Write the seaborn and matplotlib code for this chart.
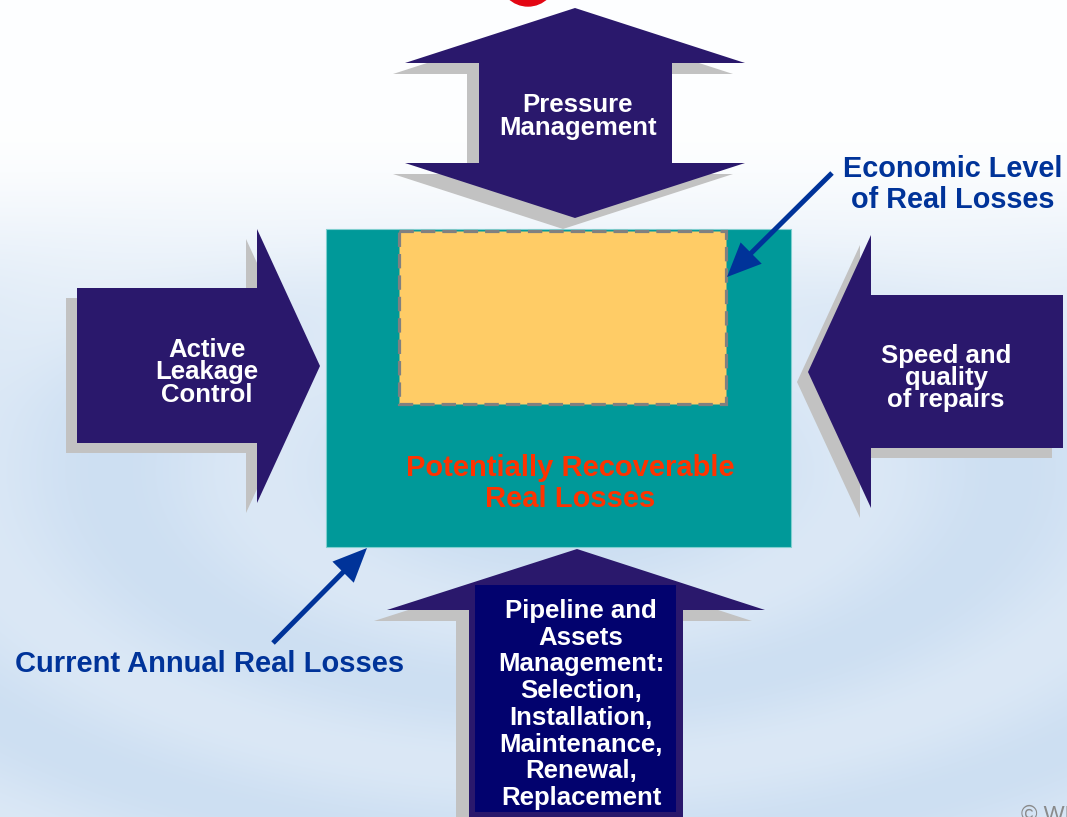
import numpy as np
import matplotlib
matplotlib.use("Agg")
import matplotlib.pyplot as plt
from matplotlib.patches import Polygon, Rectangle, Circle
import seaborn as sns

# ---- labels ---------------------------------------------------------------
TOP_LABEL = ["Pressure", "Management"]
LEFT_LABEL = ["Active", "Leakage", "Control"]
RIGHT_LABEL = ["Speed and", "quality", "of repairs"]
BOTTOM_LABEL = ["Pipeline and", "Assets", "Management:", "Selection,",
                "Installation,", "Maintenance,", "Renewal,", "Replacement"]
CENTER_LABEL = ["Potentially Recoverable", "Real Losses"]
ECONOMIC_LABEL = ["Economic Level", "of Real Losses"]
CURRENT_LABEL = "Current Annual Real Losses"
COPYRIGHT = "\u00a9 WRc"

# ---- colours ----------------------------------------------------------------
ARROW = "#2a186c"
INNER = "#02026e"
SHADOW = "#c2c2c2"
TEAL = "#009999"
SAND = "#ffcc66"
RED_TXT = "#ff3300"
BLUE_TXT = "#003399"

sns.set_theme(style="white")
plt.rcParams["font.family"] = ["Liberation Sans", "DejaVu Sans"]

W, H = 1067, 817
fig = plt.figure(figsize=(W / 100, H / 100), dpi=100)
ax = fig.add_axes([0, 0, 1, 1])
ax.set_xlim(0, W)
ax.set_ylim(H, 0)
ax.axis("off")

# ---- soft water background --------------------------------------------------
yy, xx = np.mgrid[0:H, 0:W].astype(float)
t = np.clip((yy - 120) / 300, 0, 1)
t = t * t * (3 - 2 * t)
white = np.array([0.995, 0.998, 1.0])
blue = np.array([0.805, 0.875, 0.95])
base = white[None, None, :] * (1 - t[..., None]) + blue[None, None, :] * t[..., None]
r = np.sqrt((xx - 560) ** 2 + ((yy - 470) / 0.5) ** 2)
ripple = 0.5 + 0.5 * np.cos(2 * np.pi * r / 300)
m = (0.28 * ripple * t)[..., None]
bg = base * (1 - m) + white[None, None, :] * m
ax.imshow(bg, extent=(0, W, H, 0), zorder=0, interpolation="bilinear")

# red disc peeking in at the top edge
ax.add_patch(Circle((528, -22), 28, color="#e30613", zorder=1))


def block_arrow(points, dx, dy, color, z):
    pts = np.array(points, dtype=float)
    ax.add_patch(Polygon(pts + [dx, dy], closed=True, fc=SHADOW, ec="none", zorder=z))
    ax.add_patch(Polygon(pts, closed=True, fc=color, ec="none", zorder=z + 0.5))


# top double-headed arrow
top_pts = [(575, 8), (745, 63), (672, 63), (672, 163), (745, 163), (575, 218),
           (405, 163), (479, 163), (479, 63), (405, 63)]
block_arrow(top_pts, -12, 11, ARROW, 2)

# left arrow pointing right
left_pts = [(77, 288), (257, 288), (257, 229), (320, 366), (257, 503),
            (257, 443), (77, 443)]
block_arrow(left_pts, -11, 10, ARROW, 2)

# right arrow pointing left
right_pts = [(1063, 295), (871, 295), (871, 235), (808, 372), (871, 508),
             (871, 448), (1063, 448)]
block_arrow(right_pts, -11, 10, ARROW, 2)

# bottom arrow pointing up
bottom_pts = [(577, 549), (765, 610), (683, 610), (683, 840), (469, 840),
              (469, 610), (387, 610)]
block_arrow(bottom_pts, -13, 11, ARROW, 2)
ax.add_patch(Rectangle((475, 585), 201, 227, fc=INNER, ec="none", zorder=3))

# central boxes
ax.add_patch(Rectangle((326, 229), 465, 318, fc=TEAL, ec="#7fcfcf", lw=0.8, zorder=4))
ax.add_patch(Rectangle((399, 231), 327, 173, fc=SAND, ec="#808080", lw=2.3,
                       linestyle=(0, (4.5, 2.2)), zorder=5))

# ---- texts ------------------------------------------------------------------
def lines(labels, x, baselines, size, color):
    for lab, yb in zip(labels, baselines):
        ax.text(x, yb, lab, ha="center", va="baseline", fontsize=size,
                fontweight="bold", color=color, zorder=8)


lines(TOP_LABEL, 578, [112, 135], 18.5, "white")
lines(LEFT_LABEL, 207, [357, 379, 402], 18.5, "white")
lines(RIGHT_LABEL, 946, [363, 385, 407], 18.5, "white")
lines(BOTTOM_LABEL, 581, [618 + 26.7 * i for i in range(len(BOTTOM_LABEL))], 18.5, "white")
lines(CENTER_LABEL, 570, [476, 507], 21, RED_TXT)
lines(ECONOMIC_LABEL, 953, [177, 208], 20.8, BLUE_TXT)
ax.text(15, 672, CURRENT_LABEL, ha="left", va="baseline", fontsize=21,
        fontweight="bold", color=BLUE_TXT, zorder=8)
ax.text(1021, 821, COPYRIGHT, ha="left", va="baseline", fontsize=16,
        color="#8a8a8a", zorder=8)

# pointer arrows
ax.arrow(832, 173, 727 - 832, 277 - 173, width=5, head_width=30, head_length=34,
         length_includes_head=True, fc=BLUE_TXT, ec="none", zorder=9)
ax.arrow(273, 643, 367 - 273, 548 - 643, width=5, head_width=30, head_length=34,
         length_includes_head=True, fc=BLUE_TXT, ec="none", zorder=9)

fig.savefig("out.png", dpi=100)
